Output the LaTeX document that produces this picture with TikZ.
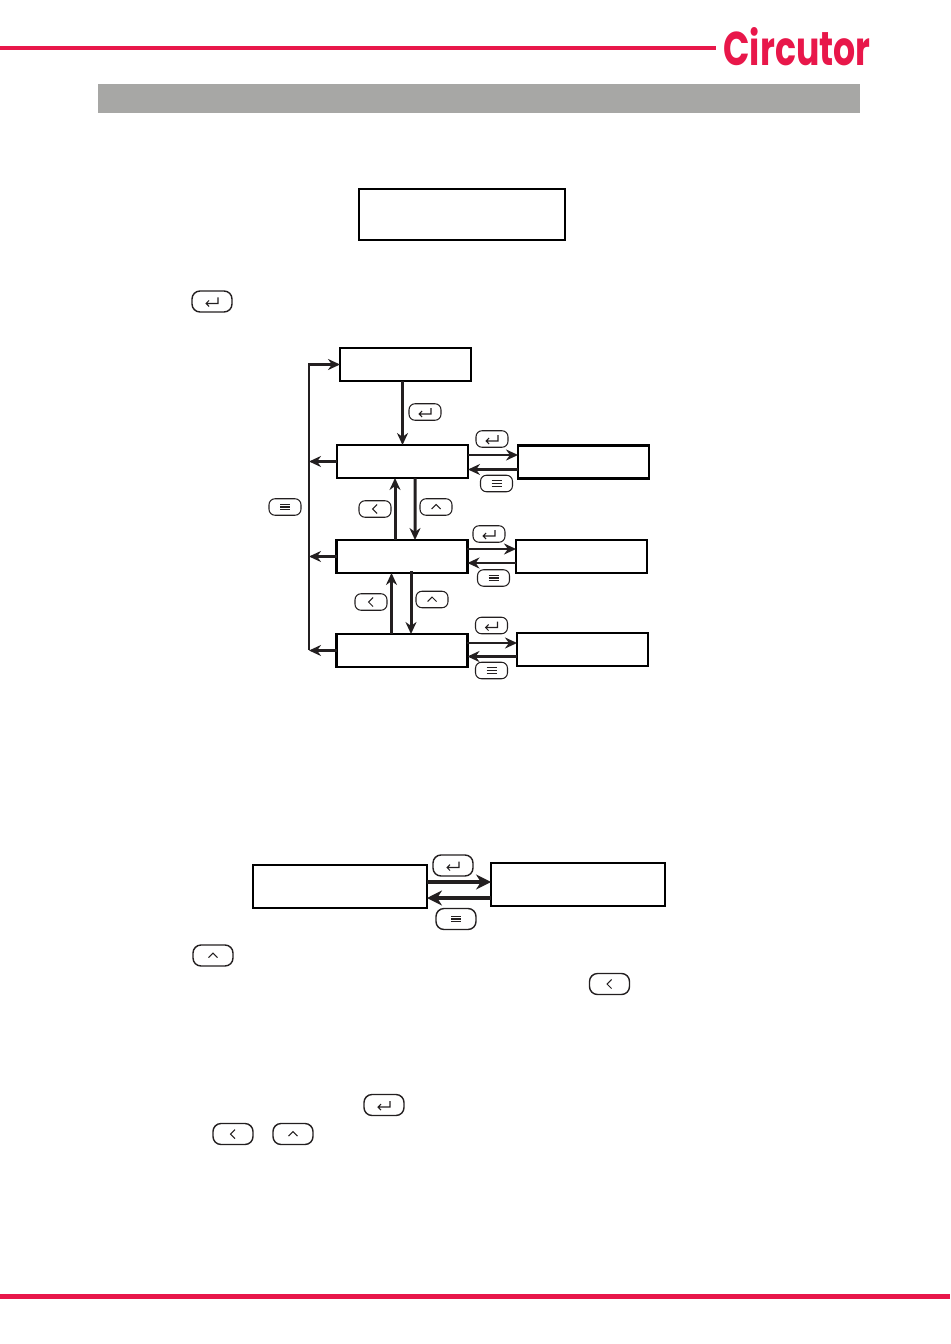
\documentclass[tikz,border=0pt]{standalone}
\usepackage{fontspec}
\newfontfamily\logofont{Poppins}
\usetikzlibrary{arrows.meta,calc}
\definecolor{brandred}{HTML}{E8174A}
\definecolor{bandgray}{HTML}{A7A7A5}
\definecolor{inkblack}{HTML}{231F20}
\tikzset{
 lcdbox/.style={draw=black,line width=1.4pt,fill=white,inner sep=0pt,outer sep=0pt,minimum width=2.62cm,minimum height=0.66cm},
 keybox/.style={draw=inkblack,line width=0.6pt,rounded corners=0.12cm,inner sep=0pt,minimum width=0.64cm,minimum height=0.33cm},
 bigkey/.style={line width=0.8pt,rounded corners=0.16cm,minimum width=0.8cm,minimum height=0.42cm},
 keyglyph/.style={inkblack,sharp corners,line width=0.6pt,shift={(path picture bounding box.center)},scale=#1},
 enterkey/.style={keybox,path picture={\draw[keyglyph=#1] (6,-4) -- (6,2) -- (-6,2) (-3,-1) -- (-6,2) -- (-3,5);}},
 enterkey/.default=1,
 menukey/.style={keybox,path picture={\draw[keyglyph=#1] (-5,-2.7) -- (5,-2.7) (-5,0) -- (5,0) (-5,2.7) -- (5,2.7);}},
 menukey/.default=1,
 leftkey/.style={keybox,path picture={\draw[keyglyph=#1] (2,-4.5) -- (-2.5,0) -- (2,4.5);}},
 leftkey/.default=1,
 upkey/.style={keybox,path picture={\draw[keyglyph=#1] (-4.5,2) -- (0,-2.5) -- (4.5,2);}},
 upkey/.default=1,
 flow/.style={draw=inkblack,line width=1.7pt,-{Stealth[length=0.24cm,width=0.22cm]}},
 bigflow/.style={draw=inkblack,line width=2.2pt,-{Stealth[length=0.3cm,width=0.3cm]}},
}
\begin{document}
\begin{tikzpicture}
[x=0.02cm,y=-0.02cm]
 \useasboundingbox (0,0) rectangle (950,1344);

 % header and footer
 \fill[brandred] (0,46) rectangle (716,50.5);
 \fill[brandred] (0,1293.5) rectangle (950,1298.5);
 \fill[bandgray] (98,84) rectangle (860,113);
 \node (logo) [inner sep=0pt,text=brandred] at (797,46.5) {\resizebox{2.94cm}{0.76cm}{\logofont\bfseries\fontsize{30}{30}\selectfont Circutor}};

 % displays
 \node (Intro) [lcdbox,minimum width=4.12cm,minimum height=1.02cm] at (462,214.5) {};
 \node (Top) [lcdbox] at (405.5,364.5) {};
 \node (MenuA) [lcdbox] at (402.5,461.5) {};
 \node (MenuB) [lcdbox] at (402,556.5) {};
 \node (MenuC) [lcdbox] at (402,650.5) {};
 \node (SubA) [lcdbox] at (583.5,462) {};
 \node (SubB) [lcdbox] at (581.5,556.5) {};
 \node (SubC) [lcdbox] at (582.5,649.5) {};
 \node (Edit) [lcdbox,minimum width=3.48cm,minimum height=0.86cm] at (340,886.5) {};
 \node (Value) [lcdbox,minimum width=3.48cm,minimum height=0.86cm] at (578,884.5) {};

 % left trunk
 \coordinate (TrunkTop) at (309,364.5);
 \coordinate (TrunkEnd) at (309,650);
 \draw[flow] (TrunkEnd) -- (TrunkTop) -- (Top.west);
 \draw[flow] (MenuA.west) -- (MenuA.west -| TrunkTop);
 \draw[flow] (MenuB.west) -- (MenuB.west -| TrunkTop);
 \draw[flow] (MenuC.west) -- (MenuC.west -| TrunkTop);

 % vertical moves
 \draw[flow] ($(Top.south)+(-3,0)$) -- (MenuA.north);
 \draw[flow] ($(MenuB.north)+(-7,0)$) -- ($(MenuA.south)+(-7.5,0)$);
 \draw[flow] ($(MenuA.south)+(12.5,0)$) -- ($(MenuB.north)+(13,0)$);
 \draw[flow] ($(MenuC.north)+(-10.5,0)$) -- ($(MenuB.south)+(-10.5,0)$);
 \draw[flow] ($(MenuB.south)+(9,-2)$) -- ($(MenuC.north)+(9,0)$);

 % side moves
 \draw[flow] ($(MenuA.east)+(0,-6.5)$) -- ($(SubA.west)+(0,-7)$);
 \draw[flow] ($(SubA.west)+(0,7.5)$) -- ($(MenuA.east)+(0,8)$);
 \draw[flow] ($(MenuB.east)+(0,-7.5)$) -- ($(SubB.west)+(0,-7.5)$);
 \draw[flow] ($(SubB.west)+(0,6.5)$) -- ($(MenuB.east)+(0,6.5)$);
 \draw[flow] ($(MenuC.east)+(0,-7.5)$) -- ($(SubC.west)+(0,-6.5)$);
 \draw[flow] ($(SubC.west)+(0,7)$) -- ($(MenuC.east)+(0,6)$);
 \draw[bigflow] ($(Edit.east)+(0,-4.5)$) -- ($(Value.west)+(0,-2.5)$);
 \draw[bigflow] ($(Value.west)+(0,13.5)$) -- ($(Edit.east)+(0,11.5)$);

 % keys beside the flow
 \node (KeyTop) [enterkey] at (425,412) {};
 \node (KeyEnterA) [enterkey] at (492,439) {};
 \node (KeyMenuA) [menukey] at (496.5,483.5) {};
 \node (KeyTrunk) [menukey] at (285,507) {};
 \node (KeyLeftA) [leftkey] at (375,509) {};
 \node (KeyUpA) [upkey] at (436,507) {};
 \node (KeyEnterB) [enterkey] at (489,534) {};
 \node (KeyMenuB) [menukey] at (493.5,578) {};
 \node (KeyLeftB) [leftkey] at (371,602) {};
 \node (KeyUpB) [upkey] at (432,599.5) {};
 \node (KeyEnterC) [enterkey] at (491.5,625.5) {};
 \node (KeyMenuC) [menukey] at (491.5,670.5) {};
 \node (KeyEnterD) [enterkey=1.3,bigkey] at (453,865.5) {};
 \node (KeyMenuD) [menukey=1.3,bigkey] at (456,919) {};

 % keys in the running text
 \node (TextEnterA) [enterkey=1.3,bigkey] at (212,301.5) {};
 \node (TextUpA) [upkey=1.3,bigkey] at (213,955.5) {};
 \node (TextLeftA) [leftkey=1.3,bigkey] at (609.5,984) {};
 \node (TextEnterB) [enterkey=1.3,bigkey] at (384,1105) {};
 \node (TextLeftB) [leftkey=1.3,bigkey] at (233,1134) {};
 \node (TextUpB) [upkey=1.3,bigkey] at (293,1134) {};
\end{tikzpicture}
\end{document}
